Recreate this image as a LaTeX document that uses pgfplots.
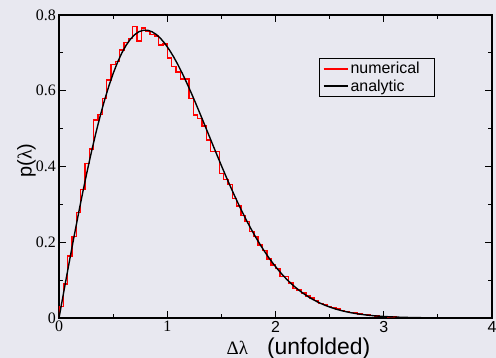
\documentclass[border=0pt]{standalone}
\usepackage{fontspec}
\setmainfont{Liberation Serif}
\setsansfont{Liberation Sans}
\usepackage{pgfplots}
\usepackage{pgfplotstable}
\pgfplotsset{compat=1.18}
\definecolor{bgcol}{RGB}{232,232,240}

% histogram of unfolded spacings: left bin edge, height
\pgfplotstableread{
x y
0.00 0.000
0.00 0.030
0.04 0.090
0.08 0.164
0.12 0.215
0.16 0.279
0.20 0.340
0.24 0.408
0.28 0.446
0.32 0.523
0.36 0.537
0.40 0.580
0.44 0.628
0.48 0.670
0.52 0.677
0.56 0.708
0.60 0.727
0.64 0.738
0.68 0.769
0.72 0.731
0.76 0.766
0.80 0.756
0.84 0.749
0.88 0.745
0.92 0.721
0.96 0.723
1.00 0.686
1.04 0.664
1.08 0.649
1.12 0.631
1.16 0.631
1.20 0.580
1.24 0.536
1.28 0.527
1.32 0.507
1.36 0.470
1.40 0.439
1.44 0.439
1.48 0.382
1.52 0.366
1.56 0.352
1.60 0.316
1.64 0.296
1.68 0.270
1.72 0.254
1.76 0.228
1.80 0.215
1.84 0.193
1.88 0.178
1.92 0.156
1.96 0.140
2.00 0.131
2.04 0.109
2.08 0.109
2.12 0.092
2.16 0.078
2.20 0.074
2.24 0.066
2.28 0.058
2.32 0.053
2.36 0.047
2.40 0.039
2.44 0.035
2.48 0.031
2.52 0.027
2.56 0.024
2.60 0.020
2.64 0.017
2.68 0.015
2.72 0.013
2.76 0.011
2.80 0.009
2.84 0.0075
2.88 0.006
2.92 0.005
2.96 0.004
3.00 0.0035
3.04 0.003
3.08 0.0025
3.12 0.002
3.16 0.0018
3.20 0.0015
3.24 0.0012
3.28 0.001
3.32 0.0008
3.36 0.0006
3.40 0.0005
3.44 0.0004
3.48 0.0003
3.52 0.0000
}\histdata

% Wigner surmise (GOE), tabulated
\pgfplotstableread{
x y
0.00 0.00000
0.02 0.03141
0.06 0.09398
0.10 0.15585
0.14 0.21655
0.18 0.27564
0.22 0.33269
0.26 0.38729
0.30 0.43908
0.34 0.48773
0.38 0.53290
0.42 0.57439
0.46 0.61193
0.50 0.64538
0.54 0.67461
0.58 0.69951
0.62 0.72009
0.66 0.73634
0.70 0.74833
0.74 0.75609
0.78 0.75980
0.82 0.75960
0.86 0.75571
0.90 0.74832
0.94 0.73768
0.98 0.72402
1.02 0.70768
1.06 0.68896
1.10 0.66805
1.14 0.64525
1.18 0.62095
1.22 0.59536
1.26 0.56882
1.30 0.54153
1.34 0.51378
1.38 0.48578
1.42 0.45777
1.46 0.42996
1.50 0.40251
1.54 0.37560
1.58 0.34937
1.62 0.32394
1.66 0.29937
1.70 0.27593
1.74 0.25345
1.78 0.23215
1.82 0.21201
1.86 0.19304
1.90 0.17522
1.94 0.15855
1.98 0.14307
2.02 0.12873
2.06 0.11546
2.10 0.10328
2.14 0.09211
2.18 0.08194
2.22 0.07267
2.26 0.06426
2.30 0.05665
2.34 0.04984
2.38 0.04370
2.42 0.03824
2.46 0.03334
2.50 0.02900
2.54 0.02514
2.58 0.02174
2.62 0.01875
2.66 0.01612
2.70 0.01383
2.74 0.01183
2.78 0.01010
2.82 0.00859
2.86 0.00729
2.90 0.00617
2.94 0.00520
2.98 0.00438
3.02 0.00368
3.06 0.00308
3.10 0.00257
3.14 0.00214
3.18 0.00178
3.22 0.00147
3.26 0.00121
3.30 0.00100
3.34 0.00082
3.38 0.00067
3.42 0.00055
3.46 0.00045
3.50 0.00037
3.70 0.00010
4.00 0.00000
}\wigner

\begin{document}
\begin{tikzpicture}
\useasboundingbox (-59bp,-40bp) rectangle (437bp,318bp);
\fill[bgcol] (-59bp,-40bp) rectangle (437bp,318bp);
\begin{axis}[
  scale only axis,
  width=433bp, height=303bp,
  xmin=0, xmax=4, ymin=0, ymax=0.8,
  axis line style={line width=1.3pt},
  xtick={0,1,2,3,4},
  xticklabels={0,1,{\sffamily 2},{\sffamily 3},{\sffamily 4}},
  minor xtick={0.5,1.5,2.5,3.5},
  ytick={0,0.2,0.4,0.6,0.8},
  yticklabels={0,0.2,0.4,0.6,0.8},
  minor ytick={0.1,0.3,0.5,0.7},
  tick align=inside,
  major tick length=7bp, minor tick length=4bp,
  every tick/.style={black, line width=1pt},
  ticklabel style={font=\fontsize{16}{16}\selectfont},
  xticklabel style={inner sep=1bp, yshift=-2bp},
  yticklabel style={inner sep=1bp, xshift=-2bp},
  xlabel={{\fontsize{19}{19}\selectfont Δλ}\hspace{19bp}{\sffamily\fontsize{23}{23}\selectfont (unfolded)}},
  xlabel style={at={(axis description cs:0.553,0)}, anchor=base, yshift=-36bp, inner sep=0pt},
  ylabel={{\sffamily p(}λ{\sffamily )}},
  ylabel style={font=\fontsize{20}{20}\selectfont, at={(axis description cs:-0.075,0.52)}, anchor=center, inner sep=0pt},
  legend style={at={(rel axis cs:0.600,0.858)}, anchor=north west,
    draw=black, line width=0.8pt, fill=bgcol,
    font=\sffamily\fontsize{16}{16}\selectfont,
    inner xsep=4bp, inner ysep=2bp, row sep=0bp},
  legend cell align=left,
  legend image code/.code={\draw[#1, line width=1pt] (0bp,0bp) -- (18bp,0bp); \path (0bp,0bp) -- (24bp,0bp);},
]
\addplot[red, line width=1.4pt, const plot, mark=none] table[x=x, y=y] {\histdata};
\addlegendentry{\makebox[78bp][l]{numerical}}
\addplot[black, line width=1.4pt, mark=none] table[x=x, y=y] {\wigner};
\addlegendentry{\makebox[78bp][l]{analytic}}
\end{axis}
\end{tikzpicture}
\end{document}
